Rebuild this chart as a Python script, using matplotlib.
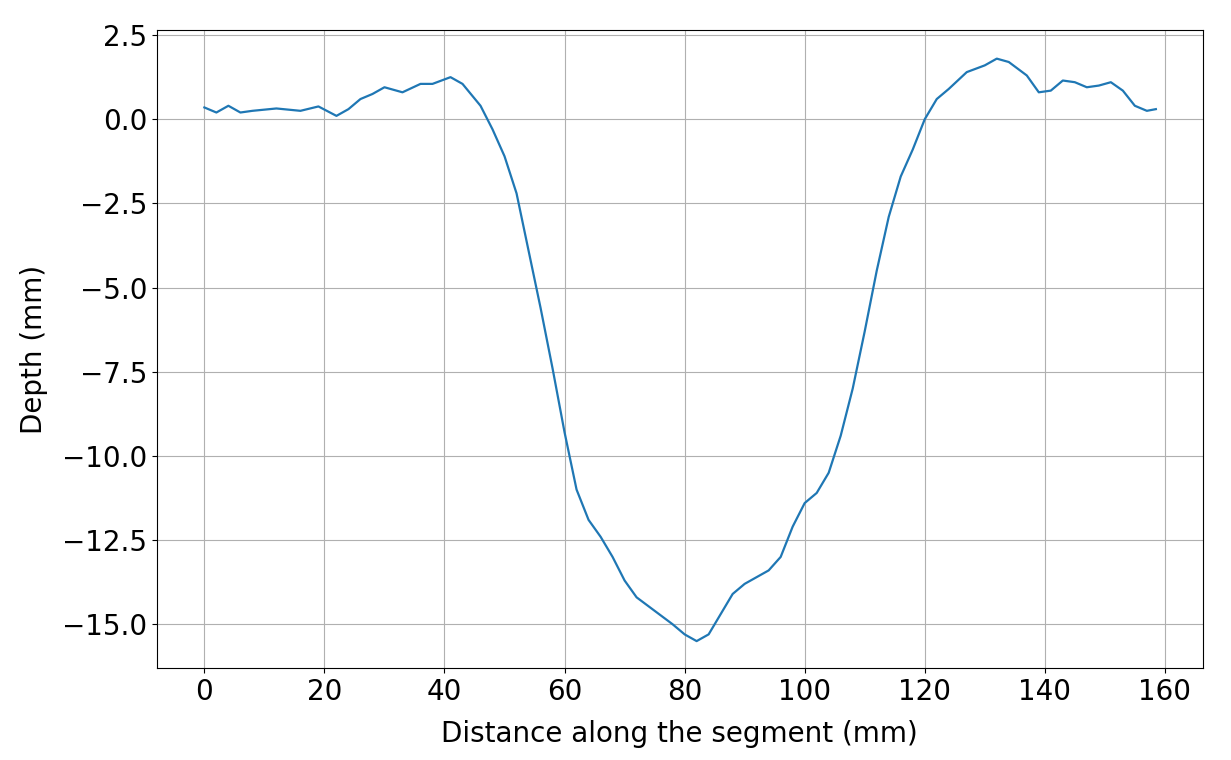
import matplotlib
matplotlib.use("Agg")
import matplotlib.pyplot as plt

distance = [0, 2, 4, 6, 8, 12, 16, 19, 22, 24, 26, 28, 30, 33, 36, 38, 41, 43, 46, 48,
            50, 52, 54, 56, 58, 60, 62, 64, 66, 68, 70, 72, 75, 78, 80, 82, 84, 86, 88, 90,
            94, 96, 98, 100, 102, 104, 106, 108, 110, 112, 114, 116, 118, 120, 122, 124,
            127, 130, 132, 134, 137, 139, 141, 143, 145, 147, 149, 151, 153, 155, 157, 158.5]
depth = [0.35, 0.2, 0.4, 0.2, 0.25, 0.32, 0.25, 0.38, 0.1, 0.3, 0.6, 0.75, 0.95, 0.8, 1.05, 1.05,
         1.25, 1.05, 0.4, -0.3, -1.1, -2.2, -3.9, -5.6, -7.4, -9.3, -11.0, -11.9, -12.4, -13.0,
         -13.7, -14.2, -14.6, -15.0, -15.3, -15.5, -15.3, -14.7, -14.1, -13.8, -13.4, -13.0,
         -12.1, -11.4, -11.1, -10.5, -9.4, -8.0, -6.3, -4.5, -2.9, -1.7, -0.9, 0.0, 0.6, 0.9,
         1.4, 1.6, 1.8, 1.7, 1.3, 0.8, 0.85, 1.15, 1.1, 0.95, 1.0, 1.1, 0.85, 0.4, 0.25, 0.3]

fig = plt.figure(figsize=(12.31, 7.6), dpi=100)
ax = fig.add_axes([0.1275, 0.121, 0.8495, 0.8395])
ax.plot(distance, depth, color="#1f77b4", linewidth=1.6)
ax.set_xlim(-7.9, 166.3)
ax.set_ylim(-16.3, 2.65)
ax.set_xticks(range(0, 161, 20))
ax.set_yticks([2.5, 0, -2.5, -5, -7.5, -10, -12.5, -15])
ax.grid(True, color="#b0b0b0")
ax.tick_params(labelsize=20)
ax.set_xlabel("Distance along the segment (mm)", fontsize=20, labelpad=10)
ax.set_ylabel("Depth (mm)", fontsize=20, labelpad=10)
fig.savefig("out.png", dpi=100)
